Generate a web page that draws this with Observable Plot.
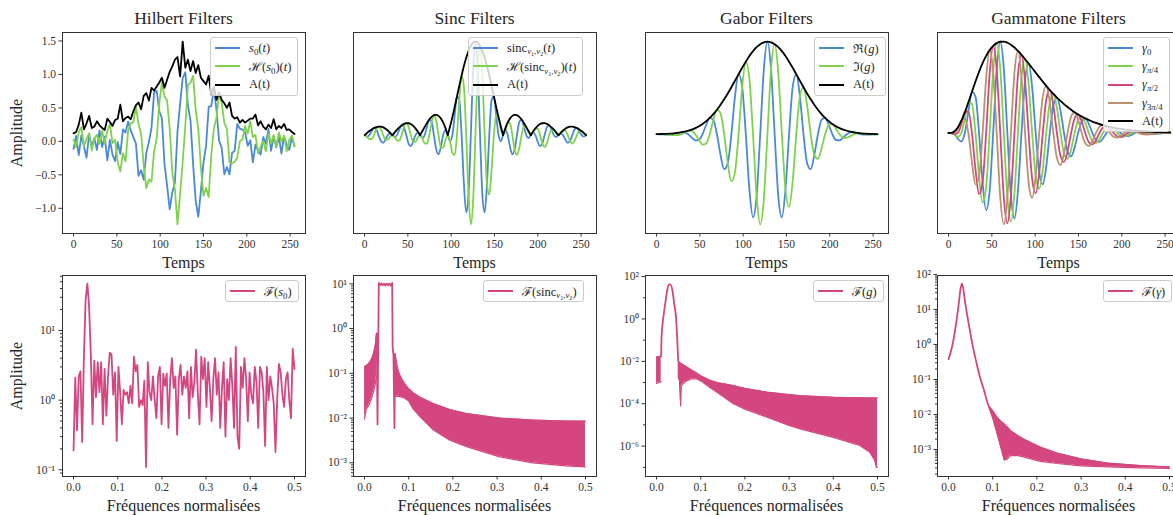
<!DOCTYPE html>
<html><head><meta charset="utf-8">
<script src="https://cdn.jsdelivr.net/npm/d3@7"></script>
<script src="https://cdn.jsdelivr.net/npm/@observablehq/plot@0.6"></script>
<style>
html,body{margin:0;padding:0;background:#fff;overflow:hidden;}
#fig{position:relative;width:1173px;height:515px;overflow:hidden;font-family:"Liberation Serif",serif;color:#262626;background:#fff;}
.abs{position:absolute;white-space:nowrap;}
.title{font-size:17.5px;transform:translate(-50%,-50%);}
.xlabel{font-size:16px;transform:translate(-50%,-50%);}
.ylabel{font-size:16px;transform:translate(-50%,-50%) rotate(-90deg);}
.legend{position:absolute;background:rgba(255,255,255,0.8);border:1px solid #cccccc;border-radius:3px;padding:1px 6px 1px 4px;font-size:12.5px;z-index:5;color:#262626;}
.legend .row{display:flex;align-items:center;height:18.3px;white-space:nowrap;}
.legend .sw{display:inline-block;width:25px;height:2px;margin-right:9px;}
sub{font-size:70%;vertical-align:-0.3em;line-height:0;}
svg text{font-family:"Liberation Serif",serif;}
</style></head>
<body><div id="fig"></div>
<script>
// ---------------- DATA ----------------
const titles = ["Hilbert Filters", "Sinc Filters", "Gabor Filters", "Gammatone Filters"];
const xLabelTop = "Temps", xLabelBottom = "Fréquences normalisées", yLabel = "Amplitude";
const timeTicks = [0, 50, 100, 150, 200, 250];
const freqTicks = [0, 0.1, 0.2, 0.3, 0.4, 0.5];
const hilYTicks = [-1, -0.5, 0, 0.5, 1, 1.5];

const hilLabels = ["<i>s</i><sub>0</sub>(<i>t</i>)", "ℋ(<i>s</i><sub>0</sub>)(<i>t</i>)", "A(t)"];
const sincLabels = ["sinc<sub><i>ν</i><sub>1</sub>,<i>ν</i><sub>2</sub></sub>(<i>t</i>)", "ℋ(sinc<sub><i>ν</i><sub>1</sub>,<i>ν</i><sub>2</sub></sub>)(<i>t</i>)", "A(t)"];
const gabLabels = ["ℜ(<i>g</i>)", "ℑ(<i>g</i>)", "A(t)"];
const gamLabels = ["<i>γ</i><sub>0</sub>", "<i>γ</i><sub><i>π</i>/4</sub>", "<i>γ</i><sub><i>π</i>/2</sub>", "<i>γ</i><sub>3<i>π</i>/4</sub>", "A(t)"];
const specLabels = ["ℱ(<i>s</i><sub>0</sub>)", "ℱ(sinc<sub><i>ν</i><sub>1</sub>,<i>ν</i><sub>2</sub></sub>)", "ℱ(<i>g</i>)", "ℱ(<i>γ</i>)"];

// Hilbert (noisy signal)
const hilT = [0,3,6,9,12,15,18,21,24,27,30,33,36,39,42,45,48,51,54,57,60,63,66,69,72,75,78,81,84,87,90,93,96,99,102,105,108,111,114,117,120,123,126,129,132,135,138,141,144,147,150,153,156,159,162,165,168,171,174,177,180,183,186,189,192,195,198,201,204,207,210,213,216,219,222,225,228,231,234,237,240,243,246,249,252,255];
const hilS = [-.113,.083,-.205,.086,-.072,-.244,.104,-.078,.047,-.128,
 .165,-.084,.071,-.285,.023,-.201,-.295,-.013,-.190,.179,
 .130,.296,.163,.068,-.034,-.515,-.430,-.575,-.169,-.010,
 .205,.736,.755,.450,.345,-.342,-.662,-1.017,-.761,-.623,
 .147,.556,.950,1.032,.540,.313,-.338,-.889,-1.126,-.742,
 -.316,-.060,.514,.527,.788,.471,.010,-.094,-.491,-.384,
 -.493,-.172,-.142,.262,.191,.175,.140,-.068,.016,-.314,
 -.048,-.135,-.196,.065,-.033,.185,-.142,.076,-.090,.069,
 -.182,.077,-.057,-.128,.061,-.074];
const hilH = [.027,-.088,.134,.211,-.078,.038,.122,-.139,.042,.099,
 -.038,.153,-.032,.160,.256,-.027,.025,-.311,-.450,-.175,
 -.300,.157,.272,.282,.528,.259,.107,-.365,-.700,-.570,
 -.601,-.143,.042,.564,.882,.673,.612,.188,-.473,-.717,
 -1.240,-.789,-.300,.229,.847,.878,.979,.469,.188,-.394,
 -.815,-.697,-.832,-.203,.196,.348,.717,.580,.279,.188,
 -.313,-.327,-.305,-.244,.004,.033,.232,.115,.300,.065,
 .094,-.179,-.076,.004,-.147,.114,-.029,.094,-.080,.133,
 -.002,.082,-.149,.026,.087,-.068];
const hilA = [.12,.14,.25,.43,.18,.27,.38,.20,.22,.30,
 .24,.20,.17,.34,.29,.23,.32,.34,.55,.30,
 .35,.37,.33,.45,.54,.58,.48,.68,.72,.61,
 .80,.76,.82,.88,.95,.80,.92,1.04,1.12,1.22,
 1.26,.97,1.49,1.10,1.22,1.05,1.20,1.02,1.14,.95,
 .90,.85,.98,.70,.82,.62,.73,.62,.57,.50,
 .58,.38,.34,.36,.28,.32,.28,.31,.34,.34,
 .40,.24,.30,.22,.18,.25,.20,.33,.18,.23,
 .20,.26,.17,.18,.14,.11];

// Sinc
const sincT = [0.2,2.86,5.53,8.19,10.85,13.51,16.18,18.84,21.5,24.16,26.83,29.49,32.15,34.81,37.48,40.14,42.8,45.46,48.13,50.79,53.45,56.11,58.78,61.44,64.1,66.76,69.43,72.09,74.75,77.41,80.08,82.74,85.4,88.06,90.73,93.39,96.05,98.71,101.38,104.04,106.7,109.36,112.03,114.69,117.35,120.01,122.68,125.34,
 128,
 130.66,133.33,135.99,138.65,141.31,143.98,146.64,149.3,151.96,154.63,157.29,159.95,162.61,165.28,167.94,170.6,173.26,175.93,178.59,181.25,183.91,186.58,189.24,191.9,194.56,197.23,199.89,202.55,205.21,207.88,210.54,213.2,215.86,218.53,221.19,223.85,226.51,229.18,231.84,234.5,237.16,239.83,242.49,245.15,247.81,250.48,253.14,255.8];
const sincRe = [0,-.016,0,.043,.076,.061,0,-.064,-.082,-.048,0,.018,0,-.021,0,.059,.104,.085,0,-.090,-.118,-.070,0,.027,0,-.031,0,.092,.167,.138,0,-.153,-.206,-.127,0,.053,0,-.065,0,.213,.415,.374,0,-.522,-.827,-.637,0,.699,
 1,
 .699,0,-.637,-.827,-.522,0,.374,.415,.213,0,-.065,0,.053,0,-.127,-.206,-.153,0,.138,.167,.092,0,-.031,0,.027,0,-.070,-.118,-.090,0,.085,.104,.059,0,-.021,0,.018,0,-.048,-.082,-.064,0,.061,.076,.043,0,-.016,0];
const sincIm = [0,-.016,-.043,-.043,0,.061,.091,.064,0,-.048,-.049,-.018,0,-.021,-.058,-.059,0,.085,.128,.090,0,-.070,-.072,-.027,0,-.031,-.088,-.092,0,.138,.213,.153,0,-.127,-.135,-.053,0,-.065,-.192,-.213,0,.374,.638,.522,0,-.637,-.955,-.699,
 0,
 .699,.955,.637,0,-.522,-.638,-.374,0,.213,.192,.065,0,.053,.135,.127,0,-.153,-.213,-.138,0,.092,.088,.031,0,.027,.072,.070,0,-.090,-.128,-.085,0,.059,.058,.021,0,.018,.049,.048,0,-.064,-.091,-.061,0,.043,.043,.016,0];
const sincA = [0,.023,.043,.061,.076,.086,.091,.090,.082,.068,.049,.025,0,.030,.058,.083,.104,.120,.128,.127,.118,.099,.072,.038,0,.044,.088,.130,.167,.195,.213,.217,.206,.179,.135,.075,0,.092,.192,.301,.415,.528,.638,.739,.827,.900,.955,.989,
 1,
 .989,.955,.900,.827,.739,.638,.528,.415,.301,.192,.092,0,.075,.135,.179,.206,.217,.213,.195,.167,.130,.088,.044,0,.038,.072,.099,.118,.127,.128,.120,.104,.083,.058,.030,0,.025,.049,.068,.082,.090,.091,.086,.076,.061,.043,.023,0];

// Gabor
const gabT = [0,3.13,7.29,11.45,15.61,19.78,23.94,28.1,32.26,36.43,40.59,44.75,48.91,53.08,57.24,61.4,65.56,69.73,73.89,78.05,82.21,86.38,90.54,94.7,98.86,103.03,107.19,111.35,115.51,119.68,123.84,128,132.16,136.33,140.49,144.65,148.81,152.98,157.14,161.3,165.46,169.63,173.79,177.95,182.11,186.28,190.44,194.6,198.76,202.93,207.09,211.25,215.41,219.58,223.74,227.9,232.06,236.23,240.39,244.55,248.71,252.88,255];
const gabA = [.0017,.0023,.0034,.0050,.0072,.0103,.0146,.0203,.0279,.0378,.0506,.0667,.0869,.1116,.1414,.1768,.2181,.2654,.3186,.3774,.4409,.5083,.5780,.6485,.7178,.7838,.8443,.8974,.9409,.9733,.9933,1,.9933,.9733,.9409,.8974,.8443,.7838,.7178,.6485,.5780,.5083,.4409,.3774,.3186,.2654,.2181,.1768,.1414,.1116,.0869,.0667,.0506,.0378,.0279,.0203,.0146,.0103,.0072,.0050,.0034,.0023,.0018];
const gabRe = [.0009,0,-.0024,-.0050,-.0051,0,.0103,.0203,.0197,0,-.0358,-.0667,-.0614,0,.100,.1768,.154,0,-.225,-.3774,-.312,0,.409,.6485,.508,0,-.597,-.8974,-.665,0,.702,1,.702,0,-.665,-.8974,-.597,0,.508,.6485,.409,0,-.312,-.3774,-.225,0,.154,.1768,.100,0,-.0614,-.0667,-.0358,0,.0197,.0203,.0103,0,-.0051,-.0050,-.0024,0,.0007];
const gabIm = [.0014,.0023,.0024,0,-.0051,-.0103,-.0103,0,.0197,.0378,.0358,0,-.0614,-.1116,-.100,0,.154,.2654,.225,0,-.312,-.5083,-.409,0,.508,.7838,.597,0,-.665,-.9733,-.702,0,.702,.9733,.665,0,-.597,-.7838,-.508,0,.409,.5083,.312,0,-.225,-.2654,-.154,0,.100,.1116,.0614,0,-.0358,-.0378,-.0197,0,.0103,.0103,.0051,0,-.0024,-.0023,-.0017];

// Gammatone
const gamT = [0,2.5,6.6,10.7,14.7,18.8,22.9,27.0,31.1,35.2,39.3,43.4,47.4,51.5,55.6,59.7,63.8,67.9,72.0,76.1,80.1,84.2,88.3,92.4,96.5,100.6,104.7,108.8,112.8,116.9,121.0,125.1,129.2,133.3,137.4,141.5,145.5,149.6,153.7,157.8,161.9,166.0,170.1,174.2,178.2,182.3,186.4,190.5,194.6,198.7,202.8,206.9,210.9,215.0,219.1,223.2,227.3,231.4,235.5,239.6,243.6,247.7,251.8,255.9];
const gamA = [0,.0011,.0173,.0608,.1322,.2261,.3345,.4492,.5626,.6687,.7631,.8428,.9062,.9528,.9830,.9979,.9988,.9874,.9656,.9351,.8978,.8553,.8090,.7604,.7104,.6602,.6105,.5620,.5151,.4703,.4278,.3878,.3504,.3157,.2836,.2541,.2271,.2025,.1802,.1600,.1417,.1253,.1106,.0975,.0857,.0753,.0660,.0578,.0506,.0442,.0385,.0336,.0292,.0254,.0220,.0191,.0166,.0143,.0124,.0107,.0093,.0080,.0069,.0059];
const gam0 = [0,0,-.0123,-.0608,-.0935,0,.2365,.4492,.3978,0,-.5396,-.8428,-.6408,0,.6951,.9979,.7063,0,-.6828,-.9351,-.6348,0,.5720,.7604,.5023,0,-.4317,-.5620,-.3642,0,.3025,.3878,.2478,0,-.2005,-.2541,-.1606,0,.1274,.1600,.1002,0,-.0782,-.0975,-.0606,0,.0467,.0578,.0358,0,-.0272,-.0336,-.0206,0,.0156,.0191,.0117,0,-.0088,-.0107,-.0065,0,.0049,.0059];
const gam1 = [0,-.0008,-.0173,-.0430,0,.1599,.3345,.3176,0,-.4728,-.7631,-.5960,0,.6737,.9830,.7056,0,-.6982,-.9656,-.6612,0,.6048,.8090,.5377,0,-.4668,-.6105,-.3974,0,.3326,.4278,.2742,0,-.2232,-.2836,-.1797,0,.1432,.1802,.1131,0,-.0886,-.1106,-.0689,0,.0532,.0660,.0409,0,-.0313,-.0385,-.0238,0,.0180,.0220,.0135,0,-.0101,-.0124,-.0076,0,.0056,.0069,.0042];
const gam2 = [0,-.0011,-.0123,0,.0935,.2261,.2365,0,-.3978,-.6687,-.5396,0,.6408,.9528,.6951,0,-.7063,-.9874,-.6828,0,.6348,.8553,.5720,0,-.5023,-.6602,-.4317,0,.3642,.4703,.3025,0,-.2478,-.3157,-.2005,0,.1606,.2025,.1274,0,-.1002,-.1253,-.0782,0,.0606,.0753,.0467,0,-.0358,-.0442,-.0272,0,.0206,.0254,.0156,0,-.0117,-.0143,-.0088,0,.0065,.0080,.0049,0];
const gam3 = [0,-.0008,0,.0430,.1322,.1599,0,-.3176,-.5626,-.4728,0,.5960,.9062,.6737,0,-.7056,-.9988,-.6982,0,.6612,.8978,.6048,0,-.5377,-.7104,-.4668,0,.3974,.5151,.3326,0,-.2742,-.3504,-.2232,0,.1797,.2271,.1432,0,-.1131,-.1417,-.0886,0,.0689,.0857,.0532,0,-.0409,-.0506,-.0313,0,.0238,.0292,.0180,0,-.0135,-.0166,-.0101,0,.0076,.0093,.0056,0,-.0042];

// Spectrum of s0 (Hilbert), frequency bins
const hilSpecF = [0,.0039,.0078,.0117,.0156,.0195,.0234,.0273,.0313,.0352,.0391,.043,.0469,.0508,.0547,.0586,.0625,.0664,.0703,.0742,.0781,.082,.0859,.0898,.0938,.0977,.1016,.1055,.1094,.1133,.1172,.1211,.125,.1289,.1328,.1367,.1406,.1445,.1484,.1523,.1563,.1602,.1641,.168,.1719,.1758,.1797,.1836,.1875,.1914,.1953,.1992,.2031,.207,.2109,.2148,.2188,.2227,.2266,.2305,.2344,.2383,.2422,.2461,.25,.2539,.2578,.2617,.2656,.2695,.2734,.2773,.2813,.2852,.2891,.293,.2969,.3008,.3047,.3086,.3125,.3164,.3203,.3242,.3281,.332,.3359,.3398,.3438,.3477,.3516,.3555,.3594,.3633,.3672,.3711,.375,.3789,.3828,.3867,.3906,.3945,.3984,.4023,.4063,.4102,.4141,.418,.4219,.4258,.4297,.4336,.4375,.4414,.4453,.4492,.4531,.457,.4609,.4648,.4688,.4727,.4766,.4805,.4844,.4883,.4922,.4961,.5];
const hilSpecV = [.19,2.1,.37,2.2,2.6,.25,4,28,47,22,4.5,.45,3.7,1.1,3.5,1.3,3.5,.45,2.8,.6,2.2,4.8,4.5,1.2,2.5,.26,3.0,1.3,.45,1.4,1.2,1.3,.9,1.6,.9,4.2,2.6,3.2,.8,1.0,.85,1.9,.11,3.5,1.3,1.0,2.2,1.0,.55,2.2,3.0,.45,2.4,1.6,2.4,.4,2.0,4.0,1.5,2.2,.32,2.0,3.2,1.2,2.2,1.5,2.6,.55,3.0,1.1,1.8,5.3,1.2,.45,4.2,2.0,4.0,.8,3.5,1.5,.5,2.0,4.0,1.2,2.5,.4,1.5,3.5,.3,2.0,1.0,4.0,1.6,.4,5.8,.3,.2,3.0,1.5,4.0,2.0,.5,2.5,1.2,.9,3.0,1.8,.4,3.0,2.5,1.3,.22,3.0,1.0,2.2,1.5,.9,.18,1.0,3.3,2.5,1.2,.8,2.0,2.5,1.0,.55,5.5,2.8];

// Spectrum of sinc: dense-ripple bands (lower / upper envelopes) and pass-band trace
const sincBand1F = [0,.004,.008,.012,.016,.02,.024,.027];
const sincBand1Hi = [.14,.15,.16,.18,.21,.27,.4,.75];
const sincBand1Lo = [.0095,.016,.018,.022,.028,.038,.055,.09];
const sincPassF = [.0265,.0275,.0293,.0323,.035,.038,.041,.044,.047,.05,.053,.056,.059,.0625,.0637,.0655,.0677,.069];
const sincPassV = [.5,.78,.0072,10.5,9.3,10.2,9.3,10.1,9.2,10.1,9.3,10.2,9.2,10.5,.36,.25,.006,.27];
const sincBand2F = [.069,.075,.08,.09,.1,.11,.126,.156,.193,.231,.306,.381,.456,.5];
const sincBand2Hi = [.27,.13,.09,.06,.045,.037,.029,.021,.0155,.0126,.0100,.0090,.0086,.0085];
const sincBand2Lo = [.03,.031,.03,.028,.024,.016,.0107,.0054,.0032,.0023,.00136,.00100,.00085,.00081];

// Spectrum of Gabor
const gabBand1F = [0,.005,.0105];
const gabBand1Hi = [.016,.017,.017];
const gabBand1Lo = [.0009,.001,.0011];
const gabPeakF = [.0105,.0113,.015,.0195,.024,.028,.031,.036,.040,.0444,.0466,.049];
const gabPeakV = [.017,.14,1.0,5,22,42,43,22,5,1.0,.14,.011];
const gabBand2F = [.049,.052,.0535,.0545,.056,.065,.08,.09,.1,.12,.137,.174,.2,.25,.3,.325,.4,.46,.483,.494,.4977,.5];
const gabBand2Hi = [.011,.009,.0085,.0082,.0078,.006,.0038,.0029,.0021,.0013,.0010,.00072,.00053,.00035,.00027,.00024,.0002,.00019,.000188,.000186,.000185,.000185];
const gabBand2Lo = [.0018,.0012,.0003,.00008,.0007,.0011,.0015,.0015,.0012,.0006,.00035,.0001,.000055,.000023,.0000095,.0000065,.0000026,.00000107,.00000051,.00000021,.0000001,.0000001];

// Spectrum of gammatone
const gamPeakF = [0,.0039,.0078,.0117,.0156,.0195,.0234,.0273,.0303,.0332,.0352,.039,.043,.05,.054,.06,.065,.07,.08,.088,.092];
const gamPeakV = [.38,.55,.85,1.5,3,6.5,16,40,55,40,26,12,6,1.9,1.0,.45,.24,.13,.051,.022,.016];
const gamBandF = [.092,.1,.11,.118,.126,.133,.14,.155,.17,.208,.246,.3,.36,.434,.5];
const gamBandHi = [.017,.013,.0083,.0066,.0054,.0044,.0035,.0026,.002,.00117,.00079,.00054,.00041,.00035,.00032];
const gamBandLo = [.015,.008,.0028,.0012,.0005,.00053,.00067,.00068,.00062,.00046,.0004,.00034,.00032,.0003,.00029];

// ---------------- DRAWING ----------------
const BLUE = "#4a88d8", GREEN = "#7fd24c", PINK = "#d4467f", BROWN = "#b8936d", BLACK = "#000";
const fig = document.getElementById("fig");
const ML = 52, MR = 6, MT = 6, MB = 26, FW = 243, FH = 201;
const FL = [62, 353, 645, 937];
const TOP1 = 32, TOP2 = 275;
const tDomain = [-12.75, 267.75], fDomain = [-0.025, 0.525];
const SW = 1.8;
const FONT = "'Liberation Serif', serif";

const zip = (keys, ...arrs) => arrs[0].map((_, i) => Object.fromEntries(keys.map((k, j) => [k, arrs[j][i]])));
const supMap = {"-": "⁻", "0": "⁰", "1": "¹", "2": "²", "3": "³", "4": "⁴", "5": "⁵", "6": "⁶", "7": "⁷", "8": "⁸", "9": "⁹"};
const logFmt = d => "10" + String(Math.round(Math.log10(d))).split("").map(c => supMap[c]).join("");
function minors(lo, hi) {
  const out = [];
  for (let e = Math.floor(Math.log10(lo)); e <= Math.ceil(Math.log10(hi)); e++)
    for (let m = 2; m <= 9; m++) { const v = m * Math.pow(10, e); if (v >= lo && v <= hi) out.push(v); }
  return out;
}

function panel(frameLeft, frameTop, o, marks) {
  const axes = [
    Plot.frame({stroke: "#333"}),
    Plot.axisX({ticks: o.xTicks, tickFormat: o.xFmt, tickSize: 3.5, tickPadding: 2.5, label: null})
  ];
  if (o.yTicks) axes.push(Plot.axisY({ticks: o.yTicks, tickFormat: o.yFmt, tickSize: 3.5, tickPadding: o.yPad || 3, label: null}));
  if (o.yMinor) axes.push(Plot.axisY({ticks: o.yMinor, tickFormat: () => "", tickSize: 2, label: null}));
  const yOpt = {domain: o.yDomain, type: o.yType || "linear"};
  if (!o.yTicks) yOpt.axis = null;
  const svg = Plot.plot({
    width: FW + ML + MR, height: FH + MT + MB,
    marginLeft: ML, marginRight: MR, marginTop: MT, marginBottom: MB,
    style: "background:transparent;overflow:visible;color:#333;",
    x: {domain: o.xDomain},
    y: yOpt,
    marks: [...marks, ...axes]
  });
  svg.setAttribute("font-family", FONT);
  svg.setAttribute("font-size", "11.5");
  svg.style.fontFamily = FONT;
  svg.style.fontSize = "11.5px";
  svg.style.background = "transparent";
  svg.style.position = "absolute";
  svg.style.left = (frameLeft - ML) + "px";
  svg.style.top = (frameTop - MT) + "px";
  svg.style.maxWidth = "none";
  fig.appendChild(svg);
}

function label(html, x, y, cls) {
  const d = document.createElement("div");
  d.className = "abs " + cls; d.innerHTML = html;
  d.style.left = x + "px"; d.style.top = y + "px";
  fig.appendChild(d);
}
function legend(left, top, items) {
  const d = document.createElement("div");
  d.className = "legend";
  d.style.left = left + "px"; d.style.top = top + "px";
  d.innerHTML = items.map(([c, l]) => `<div class="row"><span class="sw" style="background:${c}"></span><span>${l}</span></div>`).join("");
  fig.appendChild(d);
}
// split an envelope into lobes at its zeros (for sharp cusps)
function lobes(ts, as) {
  const out = []; let seg = 0;
  ts.forEach((t, i) => {
    out.push({t, a: as[i], seg});
    if (as[i] === 0 && i > 0 && i < ts.length - 1) { seg++; out.push({t, a: as[i], seg}); }
  });
  return out;
}

const topOpt = {xDomain: tDomain, xTicks: timeTicks};
const botOpt = {xDomain: fDomain, xTicks: freqTicks, xFmt: d3.format(".1f"), yType: "log"};

// Panel 1: Hilbert
const hil = zip(["t", "s", "h", "a"], hilT, hilS, hilH, hilA);
panel(FL[0], TOP1, {...topOpt, yDomain: [-1.3765, 1.6265], yTicks: hilYTicks, yFmt: d3.format(".1f")}, [
  Plot.line(hil, {x: "t", y: "s", stroke: BLUE, strokeWidth: SW}),
  Plot.line(hil, {x: "t", y: "h", stroke: GREEN, strokeWidth: SW}),
  Plot.line(hil, {x: "t", y: "a", stroke: BLACK, strokeWidth: SW})
]);

// Panel 2: Sinc
const sinc = zip(["t", "re", "im"], sincT, sincRe, sincIm);
panel(FL[1], TOP1, {...topOpt, yDomain: [-1.053, 1.098]}, [
  Plot.line(sinc, {x: "t", y: "re", stroke: BLUE, strokeWidth: SW, curve: "monotone-x"}),
  Plot.line(sinc, {x: "t", y: "im", stroke: GREEN, strokeWidth: SW, curve: "monotone-x"}),
  Plot.line(lobes(sincT, sincA), {x: "t", y: "a", z: "seg", stroke: BLACK, strokeWidth: SW, curve: "monotone-x"})
]);

// Panel 3: Gabor
const gab = zip(["t", "re", "im", "a"], gabT, gabRe, gabIm, gabA);
panel(FL[2], TOP1, {...topOpt, yDomain: [-1.072, 1.099]}, [
  Plot.line(gab, {x: "t", y: "re", stroke: BLUE, strokeWidth: SW, curve: "monotone-x"}),
  Plot.line(gab, {x: "t", y: "im", stroke: GREEN, strokeWidth: SW, curve: "monotone-x"}),
  Plot.line(gab, {x: "t", y: "a", stroke: BLACK, strokeWidth: SW, curve: "monotone-x"})
]);

// Panel 4: Gammatone
const gam = zip(["t", "g0", "g1", "g2", "g3", "a"], gamT, gam0, gam1, gam2, gam3, gamA);
panel(FL[3], TOP1, {...topOpt, yDomain: [-1.099, 1.099]}, [
  Plot.line(gam, {x: "t", y: "g0", stroke: BLUE, strokeWidth: SW, curve: "monotone-x"}),
  Plot.line(gam, {x: "t", y: "g1", stroke: GREEN, strokeWidth: SW, curve: "monotone-x"}),
  Plot.line(gam, {x: "t", y: "g2", stroke: PINK, strokeWidth: SW, curve: "monotone-x"}),
  Plot.line(gam, {x: "t", y: "g3", stroke: BROWN, strokeWidth: SW, curve: "monotone-x"}),
  Plot.line(gam, {x: "t", y: "a", stroke: BLACK, strokeWidth: SW, curve: "monotone-x"})
]);

function bandMarks(F, Lo, Hi) {
  const d = zip(["f", "lo", "hi"], F, Lo, Hi);
  return [
    Plot.areaY(d, {x: "f", y1: "lo", y2: "hi", fill: PINK, fillOpacity: 1}),
    Plot.line(d, {x: "f", y: "hi", stroke: PINK, strokeWidth: 1.2}),
    Plot.line(d, {x: "f", y: "lo", stroke: PINK, strokeWidth: 1.2})
  ];
}

// Panel 5: spectrum of s0
const d5 = [0.0802, 61.5];
panel(FL[0], TOP2, {...botOpt, yDomain: d5, yTicks: [0.1, 1, 10], yFmt: logFmt, yMinor: minors(...d5), yPad: 4}, [
  Plot.line(zip(["f", "v"], hilSpecF, hilSpecV), {x: "f", y: "v", stroke: PINK, strokeWidth: SW})
]);

// Panel 6: spectrum of sinc
const d6 = [4.94e-4, 15.35];
panel(FL[1], TOP2, {...botOpt, yDomain: d6, yTicks: [1e-3, 1e-2, 1e-1, 1, 10], yFmt: logFmt, yMinor: minors(...d6), yPad: 3}, [
  ...bandMarks(sincBand1F, sincBand1Lo, sincBand1Hi),
  ...bandMarks(sincBand2F, sincBand2Lo, sincBand2Hi),
  Plot.line(zip(["f", "v"], sincPassF, sincPassV), {x: "f", y: "v", stroke: PINK, strokeWidth: SW})
]);

// Panel 7: spectrum of Gabor
const d7 = [3.7e-8, 112];
panel(FL[2], TOP2, {...botOpt, yDomain: d7, yTicks: [1e-6, 1e-4, 1e-2, 1, 100], yFmt: logFmt, yMinor: [1e-7, 1e-5, 1e-3, 1e-1, 10], yPad: 3}, [
  ...bandMarks(gabBand1F, gabBand1Lo, gabBand1Hi),
  ...bandMarks(gabBand2F, gabBand2Lo, gabBand2Hi),
  Plot.line(zip(["f", "v"], gabPeakF, gabPeakV), {x: "f", y: "v", stroke: PINK, strokeWidth: SW, curve: "monotone-x"})
]);

// Panel 8: spectrum of gammatone
const d8 = [1.7e-4, 93.3];
panel(FL[3], TOP2, {...botOpt, yDomain: d8, yTicks: [1e-3, 1e-2, 1e-1, 1, 10, 100], yFmt: logFmt, yMinor: minors(...d8), yPad: 3}, [
  ...bandMarks(gamBandF, gamBandLo, gamBandHi),
  Plot.line(zip(["f", "v"], gamPeakF, gamPeakV), {x: "f", y: "v", stroke: PINK, strokeWidth: SW, curve: "monotone-x"})
]);

// Titles and axis labels
FL.forEach((l, i) => {
  label(titles[i], l + FW / 2, 18, "title");
  label(xLabelTop, l + FW / 2, 263, "xlabel");
  label(xLabelBottom, l + FW / 2, 506, "xlabel");
});
label(yLabel, 17, TOP1 + FH / 2, "ylabel");
label(yLabel, 17, TOP2 + FH / 2, "ylabel");

// Legends
legend(210, 37, [[BLUE, hilLabels[0]], [GREEN, hilLabels[1]], [BLACK, hilLabels[2]]]);
legend(468, 37, [[BLUE, sincLabels[0]], [GREEN, sincLabels[1]], [BLACK, sincLabels[2]]]);
legend(814, 37, [[BLUE, gabLabels[0]], [GREEN, gabLabels[1]], [BLACK, gabLabels[2]]]);
legend(1103, 37, [[BLUE, gamLabels[0]], [GREEN, gamLabels[1]], [PINK, gamLabels[2]], [BROWN, gamLabels[3]], [BLACK, gamLabels[4]]]);
legend(225, 280, [[PINK, specLabels[0]]]);
legend(483, 280, [[PINK, specLabels[1]]]);
legend(813, 280, [[PINK, specLabels[2]]]);
legend(1103, 280, [[PINK, specLabels[3]]]);
</script></body></html>
